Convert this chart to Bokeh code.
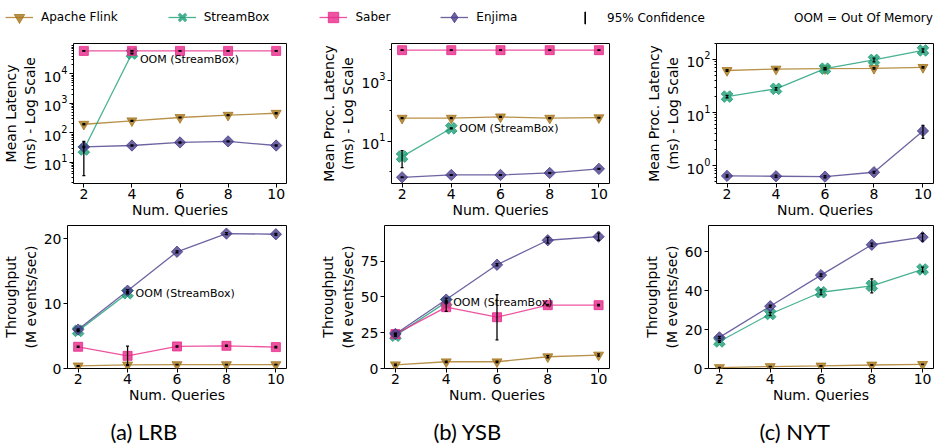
import math
from bokeh.plotting import figure
from bokeh.layouts import column, row
from bokeh.models import (ColumnDataSource, Range1d, FixedTicker, Whisker, TeeHead,
                          Label, Legend, LegendItem)
from bokeh.embed import file_html
from bokeh.resources import INLINE

# ---------------- data ----------------
queries = [2, 4, 6, 8, 10]
series_names = ["Apache Flink", "StreamBox", "Saber", "Enjima"]

# LRB
lrb_lat_flink = [195, 255, 330, 395, 460]
lrb_lat_streambox = [27, 49000]
lrb_lat_saber = [60000, 60000, 60000, 60000, 60000]
lrb_lat_enjima = [33, 37, 47, 51, 37]
lrb_lat_flink_ci = [8, 10, 12, 15, 18]
lrb_lat_streambox_ci = [23.5, 1500]
lrb_lat_saber_ci = [1200, 1200, 1200, 1200, 1200]
lrb_lat_enjima_ci = [1.5, 1.5, 2, 2, 1.5]

lrb_thr_flink = [0.4, 0.55, 0.6, 0.6, 0.6]
lrb_thr_streambox = [5.8, 11.6]
lrb_thr_saber = [3.35, 1.95, 3.4, 3.5, 3.3]
lrb_thr_enjima = [6.0, 12.0, 18.0, 20.8, 20.7]
lrb_thr_flink_ci = [0.05, 0.05, 0.05, 0.05, 0.05]
lrb_thr_streambox_ci = [0.1, 0.1]
lrb_thr_saber_ci = [0.1, 1.5, 0.1, 0.1, 0.1]
lrb_thr_enjima_ci = [0.1, 0.15, 0.15, 0.15, 0.15]

# YSB
ysb_lat_flink = [58, 58, 64, 58, 60]
ysb_lat_streambox = [3.2, 27]
ysb_lat_saber = [9800, 9800, 9800, 9800, 9800]
ysb_lat_enjima = [0.67, 0.8, 0.8, 0.93, 1.27]
ysb_lat_flink_ci = [2, 2, 2, 2, 2]
ysb_lat_streambox_ci = [1.8, 1]
ysb_lat_saber_ci = [200, 200, 200, 200, 200]
ysb_lat_enjima_ci = [0.02, 0.02, 0.02, 0.03, 0.04]

ysb_thr_flink = [2.6, 4.7, 4.7, 8.2, 9.4]
ysb_thr_streambox = [22.9, 46.3]
ysb_thr_saber = [24.0, 42.8, 35.8, 44.2, 44.2]
ysb_thr_enjima = [24.1, 48.1, 72.4, 89.5, 92.0]
ysb_thr_flink_ci = [0.5, 0.5, 0.5, 0.8, 0.8]
ysb_thr_streambox_ci = [0.5, 0.5]
ysb_thr_saber_ci = [0.5, 3.0, 15.8, 0.5, 0.5]
ysb_thr_enjima_ci = [0.5, 1.0, 0.8, 2.0, 2.5]

# NYT
nyt_lat_flink = [62, 66, 67, 68, 71]
nyt_lat_streambox = [20, 28, 67, 98, 148]
nyt_lat_enjima = [0.64, 0.63, 0.62, 0.75, 4.5]
nyt_lat_flink_ci = [2, 2, 2, 2, 2]
nyt_lat_streambox_ci = [1, 1.5, 3, 8, 10]
nyt_lat_enjima_ci = [0.03, 0.03, 0.03, 0.03, 1.25]

nyt_thr_flink = [0.5, 1.0, 1.3, 1.8, 2.1]
nyt_thr_streambox = [13.9, 28.0, 39.2, 42.5, 50.9]
nyt_thr_enjima = [16.0, 32.0, 48.0, 63.6, 67.5]
nyt_thr_flink_ci = [0.1, 0.1, 0.1, 0.1, 0.1]
nyt_thr_streambox_ci = [0.5, 0.8, 1.2, 3.6, 1.2]
nyt_thr_enjima_ci = [0.5, 0.5, 0.6, 0.8, 2.0]

captions = ["(a) LRB", "(b) YSB", "(c) NYT"]
oom_text = "OOM (StreamBox)"

# ---------------- styling ----------------
colors = {"Apache Flink": "#a6761d", "StreamBox": "#1b9e77",
          "Saber": "#e7298a", "Enjima": "#483d8b"}
markers = {"Apache Flink": ("inverted_triangle", 0.0, 10),
           "StreamBox": ("plus", math.pi / 4, 12),
           "Saber": ("square", 0.0, 9),
           "Enjima": ("square", math.pi / 4, 8)}
# legend glyphs (legend ignores marker rotation, so use equivalent shapes)
legend_markers = {"Apache Flink": ("inverted_triangle", 1.0),
                  "StreamBox": ("x", 3.2),
                  "Saber": ("square", 1.0),
                  "Enjima": ("diamond", 1.0)}
FONT = "DejaVu Sans"


def make_fig(width, height, left, right, top, bottom, log, yr, yticks, yminor, ylabel):
    p = figure(width=width, height=height, x_range=Range1d(1.57, 10.43),
               y_range=Range1d(*yr), y_axis_type="log" if log else "linear",
               output_backend="svg", toolbar_location=None,
               min_border_left=left, min_border_right=right,
               min_border_top=top, min_border_bottom=bottom)
    p.xgrid.visible = False
    p.ygrid.visible = False
    p.outline_line_color = "black"
    p.outline_line_alpha = 1
    p.outline_line_width = 1
    p.xaxis.ticker = FixedTicker(ticks=queries)
    p.yaxis.ticker = FixedTicker(ticks=yticks, minor_ticks=yminor)
    p.xaxis.axis_label = "Num. Queries"
    p.yaxis.axis_label = ylabel
    for ax in (p.xaxis[0], p.yaxis[0]):
        ax.axis_line_color = None
        ax.major_tick_out = 4
        ax.major_tick_in = 0
        ax.minor_tick_out = 2
        ax.minor_tick_in = 0
        ax.major_tick_line_color = "black"
        ax.minor_tick_line_color = "black"
        ax.major_label_text_font = FONT
        ax.major_label_text_font_size = "14px"
        ax.major_label_text_color = "black"
        ax.axis_label_text_font = FONT
        ax.axis_label_text_font_size = "14px"
        ax.axis_label_text_font_style = "normal"
        ax.axis_label_text_color = "black"
    p.xaxis.minor_tick_line_color = None
    p.xaxis.major_label_standoff = 1
    p.xaxis.axis_label_standoff = 0
    p.yaxis.major_label_standoff = 2
    p.yaxis.axis_label_standoff = 2
    return p


def add_series(p, name, vals, ci, whiskers):
    xs = queries[:len(vals)]
    lo = [v - c for v, c in zip(vals, ci)]
    hi = [v + c for v, c in zip(vals, ci)]
    src = ColumnDataSource(dict(x=xs, y=vals, lo=lo, hi=hi))
    col = colors[name]
    mk, ang, sz = markers[name]
    p.line("x", "y", source=src, line_color=col, line_width=1.3, line_alpha=0.8)
    p.scatter("x", "y", source=src, marker=mk, angle=ang, size=sz,
              fill_color=col, fill_alpha=0.8, line_color=col, line_alpha=0.8)
    whiskers.append(src)


def finish(p, whiskers):
    for src in whiskers:
        p.add_layout(Whisker(base="x", lower="lo", upper="hi", source=src,
                             dimension="height", level="overlay",
                             line_color="black", line_width=1.3,
                             upper_head=TeeHead(size=3, line_color="black", line_width=1.3),
                             lower_head=TeeHead(size=3, line_color="black", line_width=1.3)))


def oom(p, yval, xo, yo):
    p.add_layout(Label(x=queries[1], y=yval, text=oom_text, x_offset=xo, y_offset=yo,
                       text_font=FONT, text_font_size="11px", text_baseline="middle",
                       text_color="black"))


def minor_log(lo_exp, hi_exp):
    return [m * 10 ** e for e in range(lo_exp, hi_exp + 1) for m in range(2, 10)]


TOP_H = 188
BOT_H = 183

# ---- top row (latency) ----
p1 = make_fig(310, TOP_H, 67, 24, 8, 40, True, (1.9, 1.07e5),
              [10, 100, 1000, 10000], minor_log(0, 4), "Mean Latency\n(ms) - Log Scale")
w = []
add_series(p1, "Apache Flink", lrb_lat_flink, lrb_lat_flink_ci, w)
add_series(p1, "StreamBox", lrb_lat_streambox, lrb_lat_streambox_ci, w)
add_series(p1, "Saber", lrb_lat_saber, lrb_lat_saber_ci, w)
add_series(p1, "Enjima", lrb_lat_enjima, lrb_lat_enjima_ci, w)
finish(p1, w)
oom(p1, lrb_lat_streambox[1], 8, -6)

p2 = make_fig(310, TOP_H, 81, 11, 8, 40, True, (0.42, 16200),
              [10, 1000], [1, 100, 10000], "Mean Proc. Latency\n(ms) - Log Scale")
w = []
add_series(p2, "Apache Flink", ysb_lat_flink, ysb_lat_flink_ci, w)
add_series(p2, "StreamBox", ysb_lat_streambox, ysb_lat_streambox_ci, w)
add_series(p2, "Saber", ysb_lat_saber, ysb_lat_saber_ci, w)
add_series(p2, "Enjima", ysb_lat_enjima, ysb_lat_enjima_ci, w)
finish(p2, w)
oom(p2, ysb_lat_streambox[1], 8, 0)

p3 = make_fig(316, TOP_H, 96, 3, 8, 40, True, (0.46, 200),
              [1, 10, 100], minor_log(-1, 2), "Mean Proc. Latency\n(ms) - Log Scale")
w = []
add_series(p3, "Apache Flink", nyt_lat_flink, nyt_lat_flink_ci, w)
add_series(p3, "StreamBox", nyt_lat_streambox, nyt_lat_streambox_ci, w)
add_series(p3, "Enjima", nyt_lat_enjima, nyt_lat_enjima_ci, w)
finish(p3, w)

# ---- bottom row (throughput) ----
p4 = make_fig(310, BOT_H, 61, 24, 2, 38, False, (0, 22.05),
              [0, 10, 20], [], "Throughput\n(M events/sec)")
w = []
add_series(p4, "Apache Flink", lrb_thr_flink, lrb_thr_flink_ci, w)
add_series(p4, "StreamBox", lrb_thr_streambox, lrb_thr_streambox_ci, w)
add_series(p4, "Saber", lrb_thr_saber, lrb_thr_saber_ci, w)
add_series(p4, "Enjima", lrb_thr_enjima, lrb_thr_enjima_ci, w)
finish(p4, w)
oom(p4, lrb_thr_streambox[1], 8, 0)

p5 = make_fig(310, BOT_H, 74, 11, 2, 38, False, (0, 99.8),
              [0, 25, 50, 75], [], "Throughput\n(M events/sec)")
w = []
add_series(p5, "Apache Flink", ysb_thr_flink, ysb_thr_flink_ci, w)
add_series(p5, "StreamBox", ysb_thr_streambox, ysb_thr_streambox_ci, w)
add_series(p5, "Saber", ysb_thr_saber, ysb_thr_saber_ci, w)
add_series(p5, "Enjima", ysb_thr_enjima, ysb_thr_enjima_ci, w)
finish(p5, w)
oom(p5, ysb_thr_streambox[1], 7, 0)

p6 = make_fig(316, BOT_H, 88, 3, 2, 38, False, (0, 73.5),
              [0, 20, 40, 60], [], "Throughput\n(M events/sec)")
w = []
add_series(p6, "Apache Flink", nyt_thr_flink, nyt_thr_flink_ci, w)
add_series(p6, "StreamBox", nyt_thr_streambox, nyt_thr_streambox_ci, w)
add_series(p6, "Enjima", nyt_thr_enjima, nyt_thr_enjima_ci, w)
finish(p6, w)

# ---- caption strip ----
cap = figure(width=936, height=42, x_range=Range1d(0, 1), y_range=Range1d(0, 1),
             x_axis_location=None, y_axis_location=None,
             output_backend="svg", toolbar_location=None, min_border=0,
             outline_line_color=None)
cap.xgrid.visible = False
cap.ygrid.visible = False
for text, xpos in zip(captions, (110, 433, 759)):
    cap.add_layout(Label(x=xpos, y=17, x_units="screen", y_units="screen", text=text,
                         text_font="Lato", text_font_size="22px", text_baseline="middle",
                         text_align="left", text_color="black"))

# ---- legend strip ----
# The legend renderers reuse the LRB throughput series; they fall outside this
# strip's ranges, so only their legend glyphs are visible.
leg = figure(width=936, height=35, x_range=Range1d(0, 1), y_range=Range1d(0, 1),
             x_axis_location=None, y_axis_location=None,
             output_backend="svg", toolbar_location=None, min_border=0,
             outline_line_color=None)
leg.xgrid.visible = False
leg.ygrid.visible = False
legend_data = {"Apache Flink": lrb_thr_flink, "StreamBox": lrb_thr_streambox,
               "Saber": lrb_thr_saber, "Enjima": lrb_thr_enjima}
items = []
for name in series_names:
    col = colors[name]
    mk, lw = legend_markers[name]
    vals = legend_data[name]
    src = ColumnDataSource(dict(x=queries[:len(vals)], y=vals))
    ln = leg.line("x", "y", source=src, line_color=col, line_width=1.3, line_alpha=0.8)
    sc = leg.scatter("x", "y", source=src, marker=mk, line_width=lw,
                     fill_color=col, fill_alpha=0.8, line_color=col, line_alpha=0.8)
    items.append(LegendItem(label=name, renderers=[ln, sc]))
legend1 = Legend(items=items, orientation="horizontal", location=(5, 5),
                 margin=0, padding=0, spacing=50, glyph_width=28, glyph_height=26,
                 label_height=26, label_standoff=8, label_text_font=FONT,
                 label_text_font_size="12px", label_text_color="black",
                 border_line_color=None, background_fill_alpha=0)
leg.add_layout(legend1, "center")

ci_src = ColumnDataSource(dict(x=queries, y=lrb_thr_saber))
eb = leg.vbar(x="x", top="y", width=0.5, source=ci_src, fill_color="black",
              line_color="black", line_width=0.6)
blank = leg.line("x", "y", source=ci_src, line_alpha=0)
legend2 = Legend(items=[LegendItem(label="95% Confidence", renderers=[eb]),
                        LegendItem(label="OOM = Out Of Memory", renderers=[blank])],
                 orientation="horizontal", location=(584, 10),
                 margin=0, padding=0, spacing=66, glyph_width=2, glyph_height=15,
                 label_height=15, label_standoff=21, label_text_font=FONT,
                 label_text_font_size="12px", label_text_color="black",
                 border_line_color=None, background_fill_alpha=0)
leg.add_layout(legend2, "center")

layout = column(leg, row(p1, p2, p3), row(p4, p5, p6), cap)
open("out.html", "w").write(file_html(layout, INLINE))
